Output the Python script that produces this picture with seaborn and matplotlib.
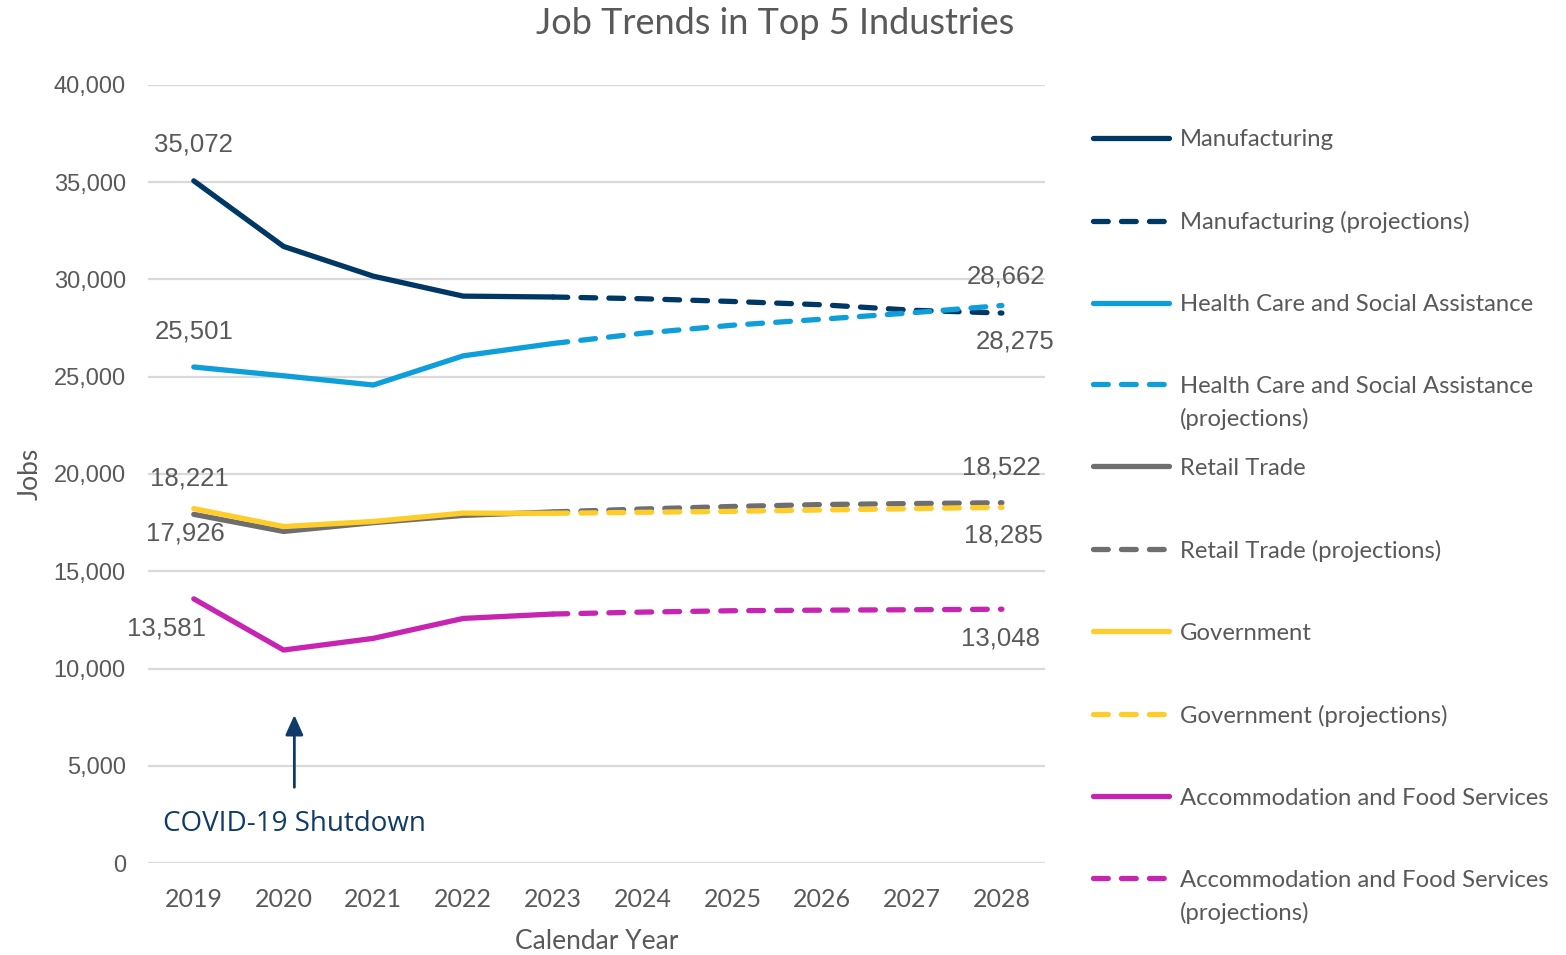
import pandas as pd
import matplotlib.pyplot as plt
import seaborn as sns

# Data
actual_years = [2019, 2020, 2021, 2022, 2023]
proj_years = [2023, 2024, 2025, 2026, 2027, 2028]

manufacturing = [35072, 31700, 30170, 29145, 29100]
manufacturing_proj = [29100, 29010, 28870, 28700, 28420, 28275]
health_care = [25501, 25050, 24575, 26075, 26710]
health_care_proj = [26710, 27240, 27650, 27960, 28290, 28662]
retail = [17926, 17047, 17500, 17870, 18050]
retail_proj = [18050, 18200, 18330, 18430, 18480, 18522]
government = [18221, 17300, 17560, 17990, 17980]
government_proj = [17980, 18030, 18080, 18150, 18220, 18285]
accommodation = [13581, 10950, 11550, 12575, 12800]
accommodation_proj = [12800, 12900, 12970, 13000, 13020, 13048]

industries = ["Manufacturing", "Health Care and Social Assistance", "Retail Trade",
              "Government", "Accommodation and Food Services"]
colors = ["#003865", "#0E9FDA", "#6E6E6E", "#FFCD2A", "#C724B1"]
actual_values = [manufacturing, health_care, retail, government, accommodation]
proj_values = [manufacturing_proj, health_care_proj, retail_proj, government_proj, accommodation_proj]

# label offsets in pixels: start (dx, dy), end (dx, dy)
start_offsets = [(0, 36), (0, 36), (-8, -19), (-4, 30), (-27, -30)]
end_offsets = [(13, -28), (4, 29), (-1, 35), (2, -28), (-1, -29)]

grey = "#595959"
aptos_like = ["Lato", "DejaVu Sans"]

sns.set_theme(style="white")
plt.rcParams['font.family'] = ['Liberation Sans', 'DejaVu Sans']

fig = plt.figure(figsize=(15.66, 9.55), dpi=100)
ax = fig.add_axes([148 / 1566, 1 - 863 / 955, (1045 - 148) / 1566, (863 - 85) / 955])

dash = (0, (2.8, 2.5))
handles = []
for name, col, act, proj in zip(industries, colors, actual_values, proj_values):
    df_a = pd.DataFrame({"year": actual_years, "jobs": act})
    df_p = pd.DataFrame({"year": proj_years, "jobs": proj})
    sns.lineplot(data=df_a, x="year", y="jobs", ax=ax, color=col, lw=3.8,
                 solid_capstyle="round", solid_joinstyle="round", legend=False)
    sns.lineplot(data=df_p, x="year", y="jobs", ax=ax, color=col, lw=3.8,
                 linestyle=dash, dash_capstyle="round", legend=False)
    handles.append(plt.Line2D([], [], color=col, lw=3.8, solid_capstyle="round"))
    handles.append(plt.Line2D([], [], color=col, lw=3.8, linestyle=dash, dash_capstyle="round"))

# data labels at first and last points
for act, proj, so, eo in zip(actual_values, proj_values, start_offsets, end_offsets):
    ax.annotate(f"{act[0]:,}", xy=(actual_years[0], act[0]), xytext=so,
                textcoords="offset pixels", ha="center", va="center",
                fontsize=18.5, color=grey)
    ax.annotate(f"{proj[-1]:,}", xy=(proj_years[-1], proj[-1]), xytext=eo,
                textcoords="offset pixels", ha="center", va="center",
                fontsize=18.5, color=grey)

ax.set_xlim(2018.49, 2028.48)
ax.set_ylim(0, 40000)
ax.set_xticks(list(range(2019, 2029)))
ax.set_yticks(range(0, 40001, 5000))
ax.set_yticklabels([f"{v:,}" for v in range(0, 40001, 5000)])
ax.tick_params(axis="both", length=0, labelsize=17, labelcolor=grey)
ax.tick_params(axis="y", pad=16)
ax.tick_params(axis="x", pad=18)
for lab in ax.get_xticklabels():
    lab.set_family(aptos_like)
    lab.set_fontsize(18)
ax.grid(axis="y", color="#D9D9D9", lw=1.6)
ax.set_axisbelow(True)
sns.despine(ax=ax, left=True, bottom=True)

ax.set_xlabel("Calendar Year", fontsize=19, color=grey, family=aptos_like, labelpad=13)
ax.set_ylabel("Jobs", fontsize=19, color=grey, family=aptos_like, labelpad=8)
fig.text(775 / 1566, 1 - 24 / 955, "Job Trends in Top 5 Industries", ha="center", va="center",
         fontsize=26, color=grey, family=aptos_like)

# COVID-19 annotation
ax.annotate("", xy=(2020.12, 7750), xytext=(2020.12, 3750),
            arrowprops=dict(arrowstyle="-|>,head_length=1.0,head_width=0.45",
                            color="#0F3B66", lw=2))
ax.text(2020.12, 2000, "COVID-19 Shutdown", ha="center", va="center",
        fontsize=20, color="#0F3B66", family=["Open Sans", "DejaVu Sans"])

# legend: long projection labels wrap onto a second line
labels = []
for name in industries:
    labels.append(name)
    labels.append(f"{name} (projections)")
short_labels = [lab if len(lab) < 40 else lab.replace(" (projections)", "") for lab in labels]
leg = ax.legend(handles, short_labels, loc="upper left",
                bbox_to_anchor=(1093 / 1566, 1 - 129 / 955), bbox_transform=fig.transFigure,
                frameon=False, labelspacing=2.55, handlelength=3.2,
                handletextpad=0.45, borderpad=0, borderaxespad=0,
                prop={"family": aptos_like, "size": 17.2})
for t in leg.get_texts():
    t.set_color(grey)

fig.canvas.draw()
for lab, t in zip(labels, leg.get_texts()):
    if len(lab) >= 40:
        bb = t.get_window_extent()
        fig.text(bb.x0 / 1566, (bb.y0 + bb.height / 2 - 33) / 955, "(projections)",
                 ha="left", va="center", fontsize=17.2, color=grey, family=aptos_like)

fig.savefig("out.png", dpi=100)
